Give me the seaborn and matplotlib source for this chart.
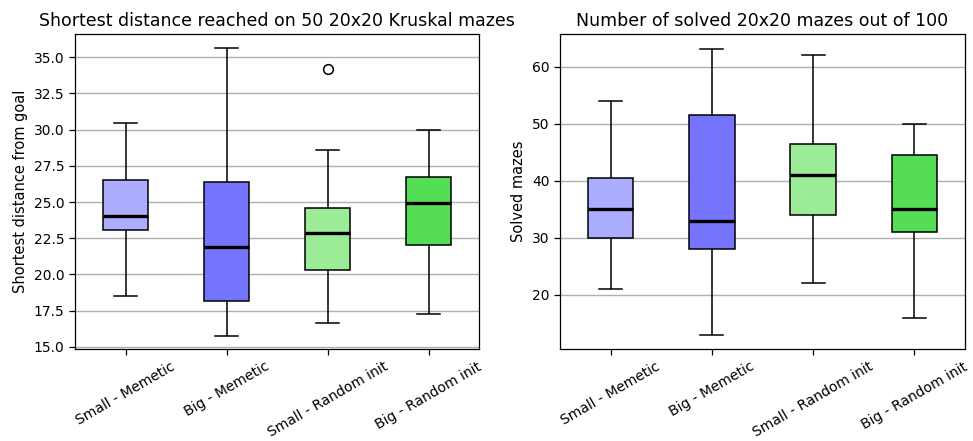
import matplotlib
matplotlib.use("Agg")
import matplotlib.pyplot as plt
import seaborn as sns
import pandas as pd

categories = ["Small - Memetic", "Big - Memetic", "Small - Random init", "Big - Random init"]
colors = ["#adadff", "#7474ff", "#9beb97", "#56dd56"]

# Left panel: shortest distance (five-number summaries, plus outlier for Small - Random init)
dist_small_memetic = [18.5, 23.05, 24.05, 26.55, 30.45]
dist_big_memetic = [15.75, 18.15, 21.9, 26.4, 35.65]
dist_small_random = [16.65, 20.3, 20.3, 22.85, 22.85, 24.6, 24.6, 28.6, 34.2]
dist_big_random = [17.25, 22.0, 24.9, 26.75, 29.95]

# Right panel: solved mazes
solved_small_memetic = [21, 30, 35, 40.5, 54]
solved_big_memetic = [13, 28, 33, 51.5, 63]
solved_small_random = [22, 34, 41, 46.5, 62]
solved_big_random = [16, 31, 35, 44.5, 50]


def to_frame(groups):
    rows = []
    for cat, vals in zip(categories, groups):
        for v in vals:
            rows.append({"cat": cat, "val": v})
    return pd.DataFrame(rows)


df_left = to_frame([dist_small_memetic, dist_big_memetic, dist_small_random, dist_big_random])
df_right = to_frame([solved_small_memetic, solved_big_memetic, solved_small_random, solved_big_random])

plt.rcParams["font.family"] = ["DejaVu Sans"]
for k in ("text.color", "axes.labelcolor", "xtick.color", "ytick.color", "axes.edgecolor"):
    plt.rcParams[k] = "black"

fig = plt.figure(figsize=(9.73, 4.41), dpi=100)
W, H = 973, 441
ax1 = fig.add_axes([75 / W, 1 - 349 / H, 404 / W, 315 / H])
ax2 = fig.add_axes([560 / W, 1 - 349 / H, 405 / W, 315 / H])

box_kw = dict(
    x="cat", y="val", hue="cat", order=categories, hue_order=categories,
    palette=colors, saturation=1, width=0.45, legend=False, linecolor="black",
    linewidth=1.1,
    medianprops=dict(color="black", linewidth=2.4),
    flierprops=dict(marker="o", markerfacecolor="none", markeredgecolor="black",
                    markersize=7, markeredgewidth=1.1),
)

sns.boxplot(data=df_left, ax=ax1, **box_kw)
sns.boxplot(data=df_right, ax=ax2, **box_kw)

ax1.set_ylim(14.85, 36.6)
ax1.set_yticks([15.0, 17.5, 20.0, 22.5, 25.0, 27.5, 30.0, 32.5, 35.0])
ax1.set_yticklabels(["15.0", "17.5", "20.0", "22.5", "25.0", "27.5", "30.0", "32.5", "35.0"])
ax2.set_ylim(10.5, 65.7)
ax2.set_yticks([20, 30, 40, 50, 60])

ax1.set_title("Shortest distance reached on 50 20x20 Kruskal mazes", fontsize=12.5)
ax2.set_title("Number of solved 20x20 mazes out of 100", fontsize=12.5)
ax1.set_ylabel("Shortest distance from goal", fontsize=10.5)
ax2.set_ylabel("Solved mazes", fontsize=10.5)

for ax in (ax1, ax2):
    ax.set_xlabel("")
    ax.set_xlim(-0.5, 3.5)
    ax.yaxis.grid(True, color="#b0b0b0", linewidth=1.0)
    ax.xaxis.grid(False)
    ax.set_axisbelow(True)
    for s in ax.spines.values():
        s.set_visible(True)
        s.set_color("black")
        s.set_linewidth(0.9)
    ax.tick_params(axis="both", direction="out", length=4, width=0.9, color="black",
                   labelcolor="black", labelsize=10, left=True, bottom=True)
    for lab in ax.get_xticklabels():
        lab.set_rotation(30)
        lab.set_ha("center")

fig.savefig("out.png", dpi=100)
